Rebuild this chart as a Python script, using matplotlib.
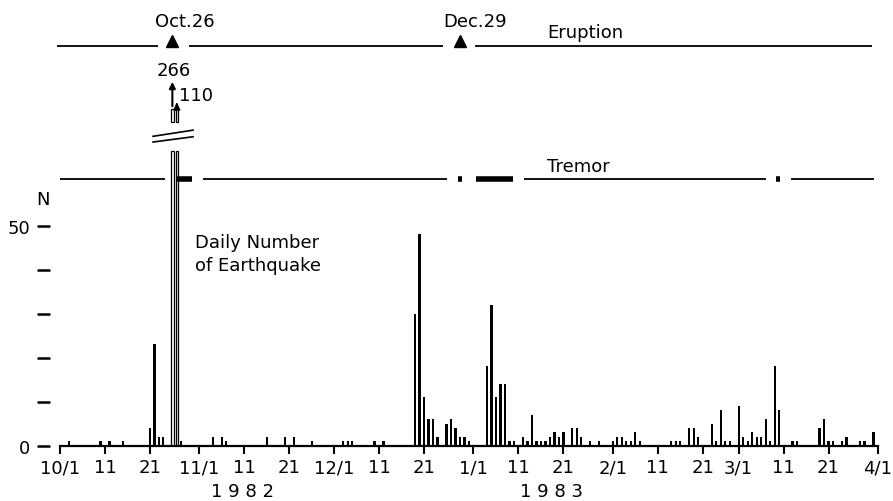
import numpy as np
import pandas as pd
import matplotlib
matplotlib.use("Agg")
import matplotlib.pyplot as plt

plt.rcParams['font.family'] = ['DejaVu Sans']

# daily number of earthquakes
quake_dates = ['1982-10-03', '1982-10-10', '1982-10-12', '1982-10-15', '1982-10-21',
               '1982-10-22', '1982-10-23', '1982-10-24', '1982-10-28', '1982-11-04',
               '1982-11-06', '1982-11-07', '1982-11-16', '1982-11-20', '1982-11-22',
               '1982-11-26', '1982-12-03', '1982-12-04', '1982-12-05', '1982-12-10',
               '1982-12-12', '1982-12-19', '1982-12-20', '1982-12-21', '1982-12-22',
               '1982-12-23', '1982-12-24', '1982-12-26', '1982-12-27', '1982-12-28',
               '1982-12-29', '1982-12-30', '1982-12-31', '1983-01-04', '1983-01-05',
               '1983-01-06', '1983-01-07', '1983-01-08', '1983-01-09', '1983-01-10',
               '1983-01-12', '1983-01-13', '1983-01-14', '1983-01-15', '1983-01-16',
               '1983-01-17', '1983-01-18', '1983-01-19', '1983-01-20', '1983-01-21',
               '1983-01-23', '1983-01-24', '1983-01-25', '1983-01-27', '1983-01-29',
               '1983-02-01', '1983-02-02', '1983-02-03', '1983-02-04', '1983-02-05',
               '1983-02-06', '1983-02-07', '1983-02-14', '1983-02-15', '1983-02-16',
               '1983-02-18', '1983-02-19', '1983-02-20', '1983-02-23', '1983-02-24',
               '1983-02-25', '1983-02-26', '1983-02-27', '1983-03-01', '1983-03-02',
               '1983-03-03', '1983-03-04', '1983-03-05', '1983-03-06', '1983-03-07',
               '1983-03-08', '1983-03-09', '1983-03-10', '1983-03-13', '1983-03-14',
               '1983-03-19', '1983-03-20', '1983-03-21', '1983-03-22', '1983-03-24',
               '1983-03-25', '1983-03-28', '1983-03-29', '1983-03-31']
quake_counts = [1, 1, 1, 1, 4,
                23, 2, 2, 1, 2,
                2, 1, 2, 2, 2,
                1, 1, 1, 1, 1,
                1, 30, 48, 11, 6,
                6, 2, 5, 6, 4,
                2, 2, 1, 18, 32,
                11, 14, 14, 1, 1,
                2, 1, 7, 1, 1,
                1, 2, 3, 2, 3,
                4, 4, 2, 1, 1,
                1, 2, 2, 1, 1,
                3, 1, 1, 1, 1,
                4, 4, 2, 5, 1,
                8, 1, 1, 9, 2,
                1, 3, 2, 2, 6,
                1, 18, 8, 1, 1,
                4, 6, 1, 1, 1,
                2, 1, 1, 3]

# off-scale days
peak_dates = ['1982-10-26', '1982-10-27']
peak_counts = [266, 110]

# eruptions
eruption_dates = ['1982-10-26', '1982-12-29']
eruption_labels = ['Oct.26', 'Dec.29']

# tremor periods, days after 10/1
tremor_thin = [(0, 23.3), (31.8, 86.0), (103.3, 157.0), (162.6, 181.1)]
tremor_thick = [(25.9, 29.3), (88.6, 89.4), (92.6, 100.7), (159.3, 160.1)]
eruption_line = [(-0.6, 21.8), (28.7, 85.3), (92.4, 180.7)]

tick_dates = ['1982-10-01', '1982-10-11', '1982-10-21', '1982-11-01', '1982-11-11',
              '1982-11-21', '1982-12-01', '1982-12-11', '1982-12-21', '1983-01-01',
              '1983-01-11', '1983-01-21', '1983-02-01', '1983-02-11', '1983-02-21',
              '1983-03-01', '1983-03-11', '1983-03-21', '1983-04-01']
tick_labels = ['10/1', '11', '21', '11/1', '11', '21', '12/1', '11', '21', '1/1',
               '11', '21', '2/1', '11', '21', '3/1', '11', '21', '4/1']

start = pd.Timestamp('1982-10-01')


def day(d):
    return start + pd.to_timedelta(d, unit='D')


def px(x, y):
    # pixel position -> figure fraction
    return x / 893, 1 - y / 502


W, H = 893, 502
fig = plt.figure(figsize=(W / 100, H / 100), dpi=100)
ax = fig.add_axes([60 / W, (H - 446.7) / H, 818 / W, 446.7 / H])

# spines first (moving a spine resets its ticks)
for s in ['top', 'right']:
    ax.spines[s].set_visible(False)
ax.spines['left'].set_position(('outward', 7.2))
ax.spines['left'].set_visible(False)
ax.spines['bottom'].set_linewidth(1.6)
ax.patch.set_alpha(0)

BREAK = 67
ax.bar(pd.to_datetime(quake_dates), quake_counts, width=0.5, color='black')
ax.bar(pd.to_datetime(peak_dates), [min(c, BREAK) for c in peak_counts], width=0.6,
       facecolor='white', edgecolor='black', linewidth=0.9)
# pieces above the break
ax.bar(pd.to_datetime(peak_dates), [3, 3], bottom=73.5, width=0.6,
       facecolor='white', edgecolor='black', linewidth=0.9)
ax.annotate('', xy=(pd.Timestamp(peak_dates[0]), 83.3), xytext=(pd.Timestamp(peak_dates[0]), 76.5),
            arrowprops=dict(arrowstyle='-|>', lw=1.5, color='black', mutation_scale=9))
ax.annotate('', xy=(pd.Timestamp(peak_dates[1]), 78.6), xytext=(pd.Timestamp(peak_dates[1]), 76.5),
            arrowprops=dict(arrowstyle='-|>', lw=1.5, color='black', mutation_scale=9))
# break marks
for y0, y1 in [(70.3, 71.7), (69.0, 70.2)]:
    ax.plot([day(20.7), day(29.6)], [y0, y1], color='black', lw=1.2, clip_on=False)

# tremor
TREM_Y = 60.5
for a, b in tremor_thin:
    ax.plot([day(a), day(b)], [TREM_Y, TREM_Y], color='black', lw=1.3,
            solid_capstyle='butt', clip_on=False)
for a, b in tremor_thick:
    ax.plot([day(a), day(b)], [TREM_Y, TREM_Y], color='black', lw=4,
            solid_capstyle='butt', clip_on=False)

# eruption
ERU_Y = 90.8
for a, b in eruption_line:
    ax.plot([day(a), day(b)], [ERU_Y, ERU_Y], color='black', lw=1.3,
            solid_capstyle='butt', clip_on=False)
ax.plot(pd.to_datetime(eruption_dates), [91.9, 91.9], ls='none', marker='^',
        markersize=9, color='black', clip_on=False)

ax.set_xlim(pd.Timestamp('1982-10-01'), pd.Timestamp('1983-04-01'))
ax.set_ylim(0, 101.5)
ax.set_xticks(pd.to_datetime(tick_dates))
ax.set_xticklabels(tick_labels)
ax.set_yticks([0, 10, 20, 30, 40, 50])
ax.set_yticklabels(['0', '', '', '', '', '50'])
ax.tick_params(axis='x', direction='out', length=6, width=1.5, pad=3, labelsize=13)
ax.tick_params(axis='y', direction='out', length=9.4, width=1.8, pad=5, labelsize=13)

# texts
fs = 13
fig.text(*px(155, 26.7), eruption_labels[0], fontsize=fs, va='baseline')
fig.text(*px(443, 26.7), eruption_labels[1], fontsize=fs, va='baseline')
fig.text(*px(547, 38.3), 'Eruption', fontsize=fs, va='baseline')
fig.text(*px(547, 171.7), 'Tremor', fontsize=fs, va='baseline')
fig.text(*px(174, 76), str(peak_counts[0]), fontsize=fs, va='baseline', ha='center')
fig.text(*px(179, 100.7), str(peak_counts[1]), fontsize=fs, va='baseline')
fig.text(*px(43, 205), 'N', fontsize=fs, va='baseline', ha='center')
fig.text(*px(195, 248.3), 'Daily Number', fontsize=fs, va='baseline')
fig.text(*px(195, 270.7), 'of Earthquake', fontsize=fs, va='baseline')
fig.text(*px(243, 501), '1 9 8 2', fontsize=fs, va='bottom', ha='center')
fig.text(*px(552, 501), '1 9 8 3', fontsize=fs, va='bottom', ha='center')

fig.savefig('out.png', dpi=100)
